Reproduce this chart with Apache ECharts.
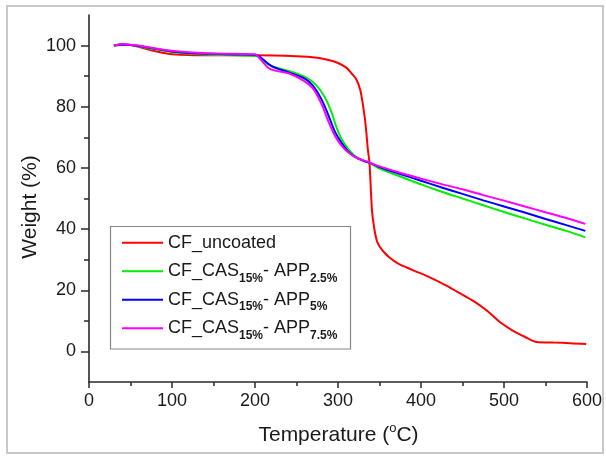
<!DOCTYPE html>
<html><head><meta charset="utf-8">
<script src="https://cdn.jsdelivr.net/npm/echarts@6/dist/echarts.min.js"></script>
<style>html,body{margin:0;padding:0;background:#fff}#c{width:606px;height:456px}</style>
</head><body><div id="c"></div>
<script>
const FONT = "'Liberation Sans', Arial, sans-serif";

const seriesNames = ['CF_uncoated', 'CF_CAS15%- APP2.5%', 'CF_CAS15%- APP5%', 'CF_CAS15%- APP7.5%'];
const legendLabels = [
  '{m|CF_uncoated}',
  '{m|CF_CAS}{s|15%}{m|- APP}{s|2.5%}',
  '{m|CF_CAS}{s|15%}{m|- APP}{s|5%}',
  '{m|CF_CAS}{s|15%}{m|- APP}{s|7.5%}'
];
const seriesColors = ['#ff0000', '#00ee00', '#0000ff', '#ff00ff'];

const xTicks = [0, 100, 200, 300, 400, 500, 600];
const yTicks = [0, 20, 40, 60, 80, 100];
const yMinorTicks = [0, 10, 20, 30, 40, 50, 60, 70, 80, 90, 100];

// CF_uncoated
const tempRed = [30,40,50,60,75,90,100,120,150,200,250,275,290,300,310,316,322,327,332,334,336,338,341,344,347,350,355,362,372,390,410,430,445,463,480,495,510,525,539,560,580,599];
const weightRed = [100,100.4,100.2,99.6,98.5,97.6,97.2,96.9,96.8,96.8,96.5,96,95.2,94.3,92.8,91,89,85.3,77,72,66,61.4,46,39.7,36,34.4,32.6,30.7,28.8,26.6,24.3,21.6,19.3,16.5,13.2,9.6,6.9,4.8,3.1,2.9,2.7,2.4];

// CF_CAS15%- APP2.5%
const tempGreen = [30,40,50,60,75,100,125,150,175,200,205,218,242,262,274,284,292,298,304,312,320,330,340,350,375,400,425,450,475,500,525,550,575,598];
const weightGreen = [100,100.3,100.2,99.8,99,97.9,97.3,97,96.8,96.6,96.3,93.5,91.6,89.5,87,83.2,78.3,73.4,69.6,66.3,64,62.5,61.3,59.8,57.2,54.6,52.2,50,47.8,45.6,43.5,41.4,39.4,37.3];

// CF_CAS15%- APP5%
const tempBlue = [30,40,50,60,75,100,125,150,175,200,205,220,240,260,270,280,288,296,304,312,320,330,340,350,375,400,425,450,475,500,525,550,575,598];
const weightBlue = [100,100.3,100.2,99.9,99.2,98.1,97.5,97.3,97.1,97,96.5,93.3,91.3,89.2,86.8,82.5,77.5,72,68.3,65.5,63.7,62.4,61.5,60.3,58,55.8,53.6,51.5,49.4,47.4,45.4,43.3,41.3,39.4];

// CF_CAS15%- APP7.5%
const tempMagenta = [30,40,50,60,75,100,125,150,175,200,205,218,242,258,270,280,288,296,304,314,325,336,340,350,375,400,425,450,475,500,525,550,575,598];
const weightMagenta = [100,100.4,100.3,100,99.3,98.3,97.7,97.4,97.3,97.2,96,92.4,90.8,88.6,85.9,81,75.5,70.7,67.4,64.7,63,62,61.5,60.5,58.4,56.5,54.7,53,51.1,49.3,47.4,45.5,43.6,41.7];

const temps = [tempRed, tempGreen, tempBlue, tempMagenta];
const weights = [weightRed, weightGreen, weightBlue, weightMagenta];

const labelMap = {};
seriesNames.forEach((n, i) => { labelMap[n] = legendLabels[i]; });

const chart = echarts.init(document.getElementById('c'), null, { renderer: 'canvas' });
const axisColor = '#2a2a2a';
const textColor = '#1a1a1a';

chart.setOption({
  animation: false,
  backgroundColor: '#fff',
  grid: { left: 89, right: 19, top: 15, bottom: 74, containLabel: false },
  xAxis: {
    type: 'value', min: 0, max: 600, interval: 100,
    axisLine: { show: true, onZero: false, lineStyle: { color: axisColor, width: 1.6 } },
    axisTick: { show: true, length: 6, lineStyle: { color: axisColor, width: 1.5 } },
    minorTick: { show: true, splitNumber: 2, length: 4, lineStyle: { color: axisColor, width: 1.5 } },
    axisLabel: { customValues: xTicks, fontSize: 18, color: textColor, fontFamily: FONT, margin: 10 },
    splitLine: { show: false }, minorSplitLine: { show: false }
  },
  yAxis: [{
    type: 'value', min: -10, max: 110, interval: 10,
    axisLine: { show: true, onZero: false, lineStyle: { color: axisColor, width: 1.6 } },
    axisTick: { show: true, customValues: yMinorTicks, length: 5, lineStyle: { color: axisColor, width: 1.5 } },
    axisLabel: { customValues: yTicks, fontSize: 18, color: textColor, fontFamily: FONT, margin: 13 },
    splitLine: { show: false }
  }, {
    type: 'value', min: -10, max: 110, interval: 10, position: 'left', offset: 0,
    axisLine: { show: false, onZero: false },
    axisTick: { show: true, customValues: yTicks, length: 8, lineStyle: { color: axisColor, width: 1.5 } },
    axisLabel: { show: false },
    splitLine: { show: false }
  }],
  legend: {
    orient: 'vertical', left: 122, top: 229.7, padding: 0, itemGap: 2.5,
    itemWidth: 41, itemHeight: 2, icon: 'rect',
    data: seriesNames.map((n, i) => ({ name: n, icon: 'rect', itemStyle: { color: seriesColors[i], borderWidth: 0 } })),
    formatter: name => labelMap[name],
    textStyle: {
      fontSize: 18, color: textColor, fontFamily: FONT, lineHeight: 26,
      rich: {
        m: { fontSize: 18, lineHeight: 26, color: textColor, fontFamily: FONT },
        s: { fontSize: 12, fontWeight: 'bold', lineHeight: 7, verticalAlign: 'bottom', color: textColor, fontFamily: FONT }
      }
    }
  },
  graphic: [
    { type: 'rect', shape: { x: 7, y: 6, width: 596, height: 447 }, style: { fill: 'none', stroke: '#c8c8c8', lineWidth: 2 }, silent: true },
    { type: 'rect', shape: { x: 110.5, y: 226.5, width: 240, height: 122.5 }, style: { fill: 'none', stroke: '#888', lineWidth: 1.2 }, silent: true },
    { type: 'text', x: 30, y: 207, rotation: Math.PI / 2,
      style: { text: 'Weight (%)', fontSize: 21, fontFamily: FONT, fill: textColor, align: 'center', verticalAlign: 'middle' } },
    { type: 'text', x: 338.5, y: 435,
      style: { text: '{t|Temperature (}{s|o}{t|C)}', align: 'center', verticalAlign: 'middle', fill: textColor,
        rich: { t: { fontSize: 21, lineHeight: 26, fontFamily: FONT, fill: textColor }, s: { fontSize: 13, lineHeight: 14, verticalAlign: 'top', fontFamily: FONT, fill: textColor } } } }
  ],
  series: seriesNames.map((name, i) => ({
    name: name, type: 'line', xAxisIndex: 0, yAxisIndex: 0,
    data: temps[i].map((t, j) => [t, weights[i][j]]),
    symbol: 'none', showSymbol: false,
    smooth: 0.3,
    lineStyle: { color: seriesColors[i], width: 2 },
    itemStyle: { color: seriesColors[i] },
    z: 2 + i
  }))
});
</script>
</body></html>
